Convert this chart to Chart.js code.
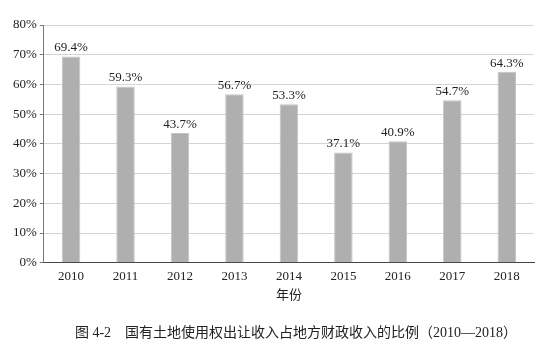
<!DOCTYPE html>
<html>
<head>
<meta charset="utf-8">
<script src="https://cdn.jsdelivr.net/npm/chart.js@4.4.1/dist/chart.umd.min.js"></script>
<style>
  html, body { margin: 0; padding: 0; background: #fff; }
  #wrap { width: 550px; height: 350px; }
</style>
</head>
<body>
<div id="wrap"><canvas id="chart" width="550" height="350"></canvas></div>
<script>
// chart data
const years = ['2010', '2011', '2012', '2013', '2014', '2015', '2016', '2017', '2018'];
const ratios = [69.4, 59.3, 43.7, 56.7, 53.3, 37.1, 40.9, 54.7, 64.3];
const xTitle = '年份';
const caption = '图 4-2　国有土地使用权出让收入占地方财政收入的比例（2010—2018）';

const FONT = "'Liberation Serif', 'Noto Sans CJK SC', serif";

// value above each bar, plus the figure caption under the chart
const annotations = {
    id: 'annotations',
    afterDatasetsDraw: (chart) => {
        const ctx = chart.ctx;
        const meta = chart.getDatasetMeta(0);
        ctx.save();
        ctx.font = '13px ' + FONT;
        ctx.fillStyle = '#222';
        ctx.textAlign = 'center';
        ctx.textBaseline = 'bottom';
        meta.data.forEach((bar, i) => {
            ctx.fillText(ratios[i].toFixed(1) + '%', bar.x, bar.y - 2);
        });
        ctx.font = '14px ' + FONT;
        ctx.textBaseline = 'middle';
        ctx.fillText(caption, chart.width / 2 + 21, chart.height - 17);
        ctx.restore();
    }
};

new Chart(document.getElementById('chart'), {
    type: 'bar',
    data: {
        labels: years,
        datasets: [{
            data: ratios,
            backgroundColor: '#afafaf',
            borderColor: '#c4c4c4',
            borderWidth: 1,
            categoryPercentage: 1,
            barPercentage: 0.34
        }]
    },
    options: {
        responsive: false,
        animation: false,
        layout: {padding: {top: 25, right: 16, left: 10, bottom: 43}},
        plugins: {
            legend: {display: false},
            tooltip: {enabled: false}
        },
        scales: {
            x: {
                grid: {display: false, drawTicks: false},
                border: {color: '#444', width: 1},
                ticks: {color: '#222', font: {family: FONT, size: 13}, padding: 6},
                title: {
                    display: true,
                    text: xTitle,
                    color: '#222',
                    font: {family: FONT, size: 13},
                    padding: {top: -3, bottom: 4}
                }
            },
            y: {
                min: 0,
                max: 80,
                ticks: {
                    stepSize: 10,
                    color: '#222',
                    font: {family: FONT, size: 13},
                    padding: 3,
                    callback: (v) => v + '%'
                },
                grid: {color: '#d4d4d4', tickColor: '#777', tickLength: 4},
                border: {color: '#777', width: 1}
            }
        }
    },
    plugins: [annotations]
});
</script>
</body>
</html>
